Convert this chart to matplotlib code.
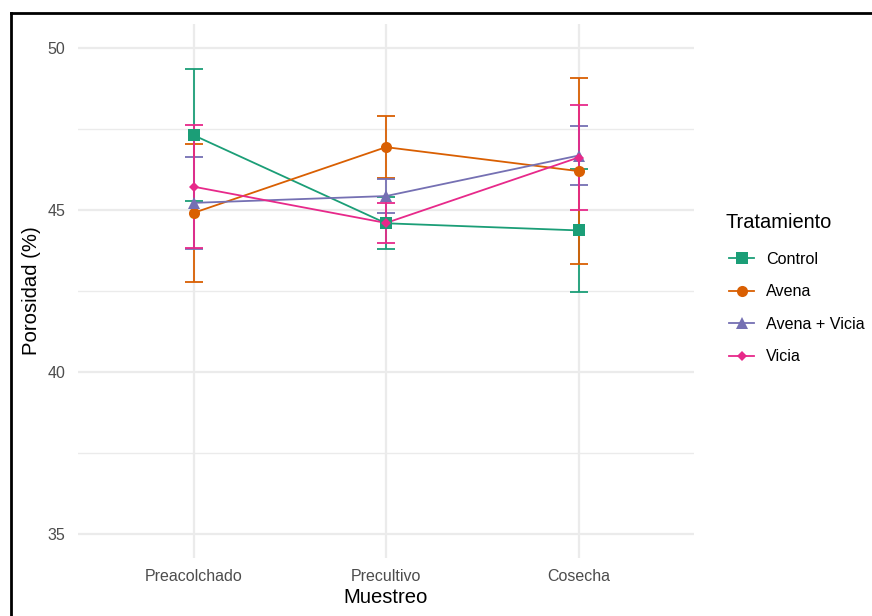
import matplotlib
matplotlib.use('Agg')
import matplotlib.pyplot as plt
from matplotlib.lines import Line2D
import numpy as np

plt.rcParams['font.family'] = ['Liberation Sans', 'DejaVu Sans']

# data
muestreo = ['Preacolchado', 'Precultivo', 'Cosecha']
tratamientos = ['Control', 'Avena', 'Avena + Vicia', 'Vicia']
control_mean = [47.31, 44.59, 44.37]
control_err = [2.03, 0.80, 1.89]
avena_mean = [44.91, 46.94, 46.20]
avena_err = [2.12, 0.96, 2.86]
avvi_mean = [45.22, 45.43, 46.68]
avvi_err = [1.42, 0.53, 0.90]
vicia_mean = [45.72, 44.60, 46.62]
vicia_err = [1.90, 0.63, 1.61]

colores = ['#1B9E77', '#D95F02', '#7570B3', '#E7298A']
markers = ['s', 'o', '^', 'D']
msizes = [8.4, 8.0, 9.0, 5.2]
means = [control_mean, avena_mean, avvi_mean, vicia_mean]
errs = [control_err, avena_err, avvi_err, vicia_err]

W, H = 872, 616
fig = plt.figure(figsize=(W / 100, H / 100), dpi=100)
ax = fig.add_axes([78 / W, 1 - 558.3 / H, (694 - 78) / W, (558.3 - 23.7) / H])

x = np.arange(len(muestreo))
lw = 1.3

# error bars first, then lines, then points (like ggplot layers)
for m, e, c in zip(means, errs, colores):
    ax.errorbar(x, m, yerr=e, fmt='none', ecolor=c, elinewidth=lw,
                capsize=6.8, capthick=lw, zorder=2)
for m, c in zip(means, colores):
    ax.plot(x, m, color=c, lw=lw, zorder=3)
for m, c, mk, ms in zip(means, colores, markers, msizes):
    ax.plot(x, m, linestyle='none', marker=mk, markersize=ms, color=c,
            markeredgewidth=0, zorder=4)

ax.set_xlim(-0.6, 2.6)
ax.set_ylim(34.25, 50.75)
ax.set_xticks(x)
ax.set_xticklabels(muestreo)
ax.set_yticks([35, 40, 45, 50])
ax.set_yticks([37.5, 42.5, 47.5], minor=True)
ax.grid(True, which='major', color='#EBEBEB', lw=1.6)
ax.grid(True, which='minor', axis='y', color='#EBEBEB', lw=1.0)
ax.set_axisbelow(True)
for s in ax.spines.values():
    s.set_visible(False)
ax.tick_params(which='both', length=0, labelsize=11.5, labelcolor='#4D4D4D')
ax.tick_params(axis='y', pad=9)
ax.tick_params(axis='x', pad=8)

ax.set_xlabel('Muestreo', fontsize=14.6, color='black')
ax.xaxis.set_label_coords(0.5, -0.074)
ax.xaxis.label.set_va('center')
ax.set_ylabel('Porosidad (%)', fontsize=14.6, color='black')
ax.yaxis.set_label_coords((31 - 78) / (694 - 78), 0.5)
ax.yaxis.label.set_va('center')

# legend: title as separate text, entries below
fig.text(725 / W, 1 - 222 / H, 'Tratamiento', fontsize=14.4, ha='left', va='center')
handles = [Line2D([], [], color=c, lw=lw, marker=mk, markersize=ms, markeredgewidth=0)
           for c, mk, ms in zip(colores, markers, msizes)]
leg = fig.legend(handles, tratamientos, loc='center left',
                 bbox_to_anchor=(721 / W, 1 - 308 / H), frameon=False,
                 fontsize=11.6, handlelength=1.55, handletextpad=0.75,
                 labelspacing=1.09, borderpad=0)

# black frame of the screenshot
fig.add_artist(Line2D([10.5 / W, 1], [1 - 13 / H] * 2, transform=fig.transFigure,
                      color='black', lw=2.0))
fig.add_artist(Line2D([10.5 / W] * 2, [0, 1 - 13 / H], transform=fig.transFigure,
                      color='black', lw=2.0))

fig.savefig('out.png', dpi=100)
